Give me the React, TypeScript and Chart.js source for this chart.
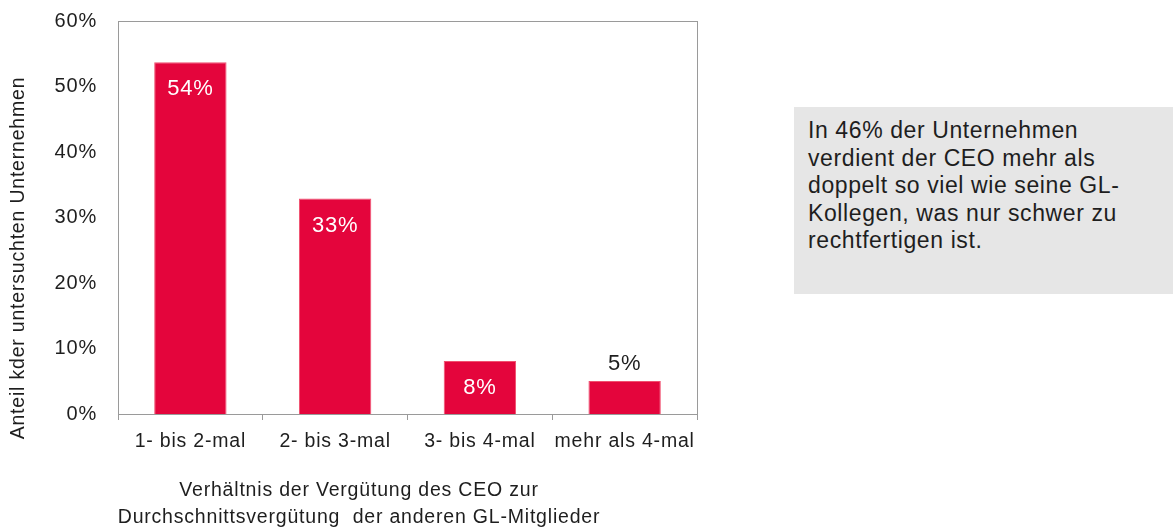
import React, { useEffect, useRef } from "react";
import { Chart, registerables } from "chart.js";

Chart.register(...registerables);

const categories = ["1- bis 2-mal", "2- bis 3-mal", "3- bis 4-mal", "mehr als 4-mal"];
const values = [53.7, 32.9, 8.1, 5.05];
const valueLabels = ["54%", "33%", "8%", "5%"];
const labelInside = [true, true, true, false];
const yTicks = [0, 10, 20, 30, 40, 50, 60];
const yTitle = "Anteil kder untersuchten Unternehmen";
const xTitleLines = ["Verhältnis der Vergütung des CEO zur", "Durchschnittsvergütung  der anderen GL-Mitglieder"];
const noteLines = [
  "In 46% der Unternehmen",
  "verdient der CEO mehr als",
  "doppelt so viel wie seine GL-",
  "Kollegen, was nur schwer zu",
  "rechtfertigen ist.",
];

const FONT = "'Liberation Sans', Arial, sans-serif";
const RED = "#E4053C";
const TEXT = "#1e1e1e";
const AXIS = "#9a9a9a";
const SPACING = "0.8px";

export default function App() {
  const ref = useRef<HTMLCanvasElement | null>(null);

  useEffect(() => {
    document.body.style.margin = "0";
    const extras = {
      id: "extras",
      beforeInit(chart: any) {
        chart.ctx.letterSpacing = SPACING;
      },
      beforeDraw(chart: any) {
        chart.ctx.letterSpacing = SPACING;
      },
      afterDatasetsDraw(chart: any) {
        const ctx = chart.ctx;
        const ca = chart.chartArea;
        ctx.save();
        ctx.letterSpacing = SPACING;
        ctx.strokeStyle = AXIS;
        ctx.lineWidth = 1;
        ctx.strokeRect(Math.round(ca.left) + 0.5, Math.round(ca.top) + 0.5, Math.round(ca.right - ca.left), Math.round(ca.bottom - ca.top));
        const meta = chart.getDatasetMeta(0);
        ctx.font = `22px ${FONT}`;
        ctx.textAlign = "center";
        ctx.textBaseline = "middle";
        meta.data.forEach((bar: any, i: number) => {
          if (labelInside[i]) {
            ctx.fillStyle = "#ffffff";
            ctx.fillText(valueLabels[i], bar.x, bar.y + 27);
          } else {
            ctx.fillStyle = TEXT;
            ctx.fillText(valueLabels[i], bar.x, bar.y - 17);
          }
        });
        // y title
        ctx.fillStyle = TEXT;
        ctx.font = `19.5px ${FONT}`;
        ctx.save();
        ctx.translate(19, 258);
        ctx.rotate(-Math.PI / 2);
        ctx.fillText(yTitle, 0, 0);
        ctx.restore();
        // x title
        ctx.fillText(xTitleLines[0], 359, 491);
        ctx.fillText(xTitleLines[1], 359, 518);
        ctx.restore();
      },
    };

    const chart = new Chart(ref.current!, {
      type: "bar",
      data: {
        labels: categories,
        datasets: [
          {
            data: values,
            backgroundColor: RED,
            borderColor: "#f0506f",
            borderWidth: 1,
            barPercentage: 0.5,
            categoryPercentage: 1,
          },
        ],
      },
      options: {
        responsive: false,
        animation: false,
        layout: { padding: { left: 0, top: 21, right: 476, bottom: 0 } },
        plugins: { legend: { display: false }, tooltip: { enabled: false } },
        scales: {
          x: {
            grid: { display: true, drawOnChartArea: false, drawTicks: true, tickLength: 6, color: AXIS, offset: true },
            border: { display: true, color: AXIS },
            ticks: { color: TEXT, font: { family: FONT, size: 19.5 }, padding: 10, maxRotation: 0, autoSkip: false },
            afterFit(scale: any) {
              scale.height = 118;
              scale.paddingLeft = 0;
              scale.paddingRight = 0;
            },
          },
          y: {
            min: 0,
            max: 60,
            afterBuildTicks(scale: any) {
              scale.ticks = yTicks.map((v) => ({ value: v }));
            },
            grid: { display: false, drawTicks: false },
            border: { display: true, color: AXIS },
            ticks: {
              color: TEXT,
              font: { family: FONT, size: 20 },
              padding: 21,
              callback: (v: any) => `${v}%`,
            },
            afterFit(scale: any) {
              scale.width = 118;
              scale.paddingTop = 0;
              scale.paddingBottom = 0;
            },
          },
        },
      },
      plugins: [extras],
    });
    return () => chart.destroy();
  }, []);

  return (
    <div style={{ position: "relative", width: 1173, height: 532, background: "#fff" }}>
      <canvas ref={ref} width={1173} height={532} style={{ position: "absolute", left: 0, top: 0 }} />
      <div
        style={{
          position: "absolute",
          left: 794,
          top: 107,
          width: 379,
          height: 187,
          background: "#e6e6e6",
          boxSizing: "border-box",
          padding: "10px 0 0 14px",
          fontFamily: FONT,
          fontSize: 23,
          letterSpacing: "0.6px",
          lineHeight: "27.5px",
          color: TEXT,
          whiteSpace: "nowrap",
        }}
      >
        {noteLines.map((l, i) => (
          <div key={i}>{l}</div>
        ))}
      </div>
    </div>
  );
}
